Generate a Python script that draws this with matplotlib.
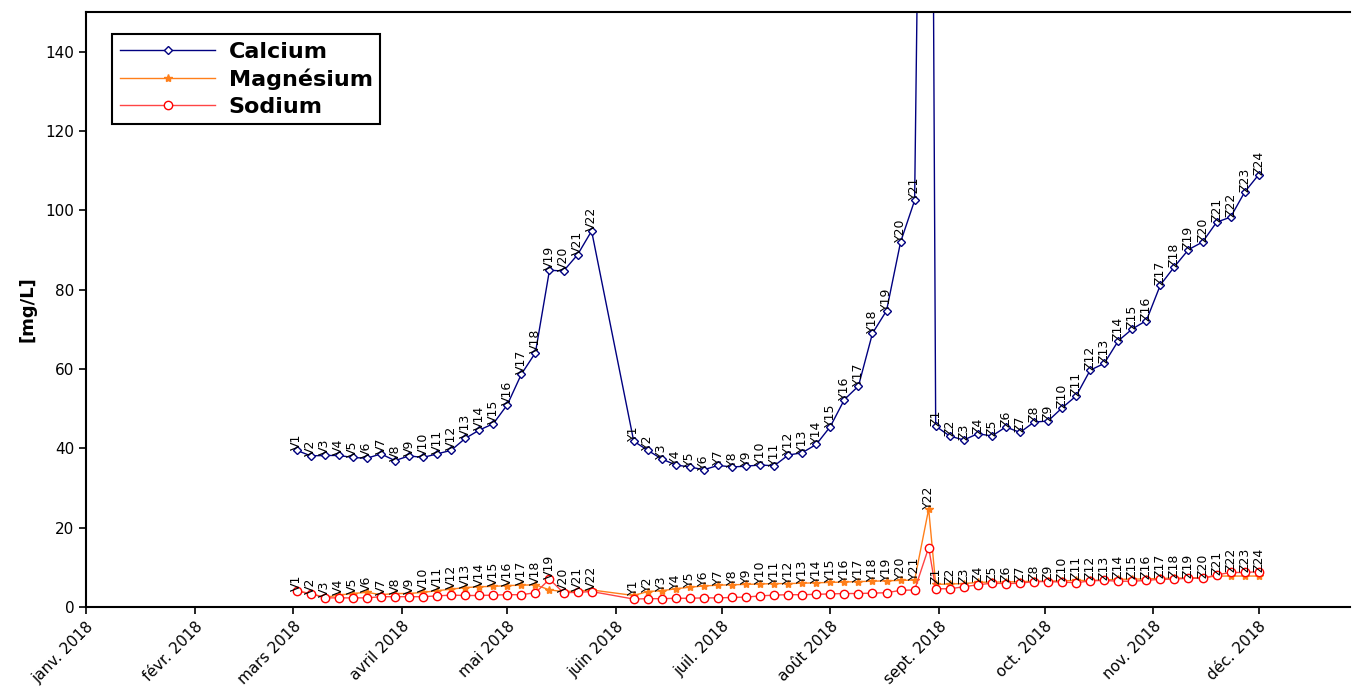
import pandas as pd
import matplotlib
matplotlib.use("Agg")
import matplotlib.pyplot as plt
import matplotlib.dates as mdates
from matplotlib.ticker import FuncFormatter

# sampling dates (2018)
dates_v = ["03-02", "03-06", "03-10", "03-14", "03-18", "03-22", "03-26", "03-30",
           "04-03", "04-07", "04-11", "04-15", "04-19", "04-23", "04-27", "05-01",
           "05-05", "05-09", "05-13", "05-17", "05-21", "05-25"]
dates_y = ["06-06", "06-10", "06-14", "06-18", "06-22", "06-26", "06-30", "07-04",
           "07-08", "07-12", "07-16", "07-20", "07-24", "07-28", "08-01", "08-05",
           "08-09", "08-13", "08-17", "08-21", "08-25", "08-29"]
dates_z = ["08-31", "09-04", "09-08", "09-12", "09-16", "09-20", "09-24", "09-28",
           "10-02", "10-06", "10-10", "10-14", "10-18", "10-22", "10-26", "10-30",
           "11-03", "11-07", "11-11", "11-15", "11-19", "11-23", "11-27", "12-01"]

calcium = [39.5, 38.1, 38.2, 38.2, 37.7, 37.5, 38.6, 36.9, 38.1, 37.7, 38.6,
           39.5, 42.5, 44.6, 46.2, 51.0, 58.7, 64.1, 84.9, 84.7, 88.8, 94.8,
           41.8, 39.5, 37.3, 35.8, 35.3, 34.6, 35.7, 35.3, 35.5, 35.8, 35.6,
           38.3, 38.9, 41.0, 45.5, 52.3, 55.7, 69.0, 74.7, 92.0, 102.5, 390.0,
           45.6, 43.1, 42.1, 43.7, 43.1, 45.4, 44.0, 46.6, 46.9, 50.2, 53.2, 59.7,
           61.4, 67.1, 70.1, 72.2, 81.2, 85.8, 90.1, 92.0, 97.0, 98.3, 104.6, 109.0]
magnesium = [4.0, 3.4, 2.4, 3.0, 3.4, 3.7, 3.1, 3.4, 3.4, 3.7, 4.1,
             4.5, 4.9, 5.1, 5.2, 5.4, 5.5, 5.6, 4.3, 3.9, 4.0, 4.3,
             2.9, 3.9, 4.1, 4.6, 5.0, 5.3, 5.5, 5.6, 5.7, 5.8, 5.9,
             5.9, 6.0, 6.1, 6.2, 6.3, 6.4, 6.5, 6.6, 6.7, 6.8, 24.7,
             5.7, 5.8, 5.9, 6.2, 6.3, 6.3, 6.4, 6.5, 6.5, 6.6, 6.7, 6.7,
             6.8, 7.0, 7.0, 7.1, 7.2, 7.3, 7.3, 7.4, 7.8, 7.8, 7.8, 7.8]
sodium = [4.0, 3.4, 2.3, 2.3, 2.3, 2.3, 2.6, 2.6, 2.6, 2.6, 2.8,
          3.0, 2.9, 2.9, 3.0, 3.1, 3.1, 3.6, 7.0, 3.6, 3.7, 3.9,
          2.0, 2.1, 2.1, 2.2, 2.2, 2.3, 2.3, 2.4, 2.5, 2.8, 3.0,
          3.1, 3.1, 3.2, 3.3, 3.4, 3.4, 3.5, 3.6, 4.2, 4.3, 15.0,
          4.6, 4.6, 5.1, 5.6, 6.0, 5.9, 6.0, 6.4, 6.4, 6.3, 6.1, 6.6,
          6.7, 6.5, 6.5, 6.7, 7.0, 7.0, 7.3, 7.2, 8.1, 8.7, 8.7, 8.9]

labels = ([f"V{i}" for i in range(1, 23)] + [f"Y{i}" for i in range(1, 23)]
          + [f"Z{i}" for i in range(1, 25)])
dates = pd.to_datetime(["2018-" + d for d in dates_v + dates_y + dates_z])

mois = ["janv.", "févr.", "mars", "avril", "mai", "juin", "juil.", "août",
        "sept.", "oct.", "nov.", "déc."]
ymax = 150

fig = plt.figure(figsize=(13.52, 6.88), dpi=100)
ax = fig.add_axes([86 / 1352, 1 - 607 / 688, 1264 / 1352, 595 / 688])

ax.plot(dates, calcium, color="#000080", lw=1, marker="D", ms=4,
        mfc="white", mec="#000080", mew=1, label="Calcium")
ax.plot(dates, magnesium, color="#ff7f1a", lw=1, marker="*", ms=6,
        mfc="#ff7f1a", mec="#ff7f1a", label="Magnésium")
ax.plot(dates, sodium, color="#ff4444", lw=1, marker="o", ms=6,
        mfc="white", mec="red", mew=1, label="Sodium")

for d, v, s in zip(dates, calcium, labels):
    if v < ymax:
        ax.text(d, v, s, rotation=90, ha="center", va="bottom", fontsize=9)
for d, m, n, s in zip(dates, magnesium, sodium, labels):
    ax.text(d, max(m, n), s, rotation=90, ha="center", va="bottom", fontsize=9)

ax.set_ylim(0, ymax)
ax.set_xlim(pd.Timestamp("2018-01-01"), pd.Timestamp("2018-12-27"))
ax.set_yticks(range(0, 141, 20))
ax.xaxis.set_major_locator(mdates.MonthLocator())
ax.xaxis.set_major_formatter(FuncFormatter(
    lambda x, pos: f"{mois[mdates.num2date(x).month - 1]} {mdates.num2date(x).year}"))
plt.setp(ax.get_xticklabels(), rotation=45, ha="right", rotation_mode="anchor")
ax.tick_params(labelsize=11, width=1.2, length=5)
ax.set_ylabel("[mg/L]", fontsize=13, fontweight="bold", labelpad=6)
for sp in ax.spines.values():
    sp.set_linewidth(1.5)
ax.spines["right"].set_visible(False)

leg = ax.legend(loc="upper left", bbox_to_anchor=(26 / 1264, 1 - 22 / 595),
                borderaxespad=0, handlelength=4.3, handletextpad=0.6,
                prop={"weight": "bold", "size": 16}, fancybox=False,
                framealpha=1, edgecolor="black", borderpad=0.35, labelspacing=0.3)
leg.get_frame().set_linewidth(1.5)

fig.savefig("out.png", dpi=100)
